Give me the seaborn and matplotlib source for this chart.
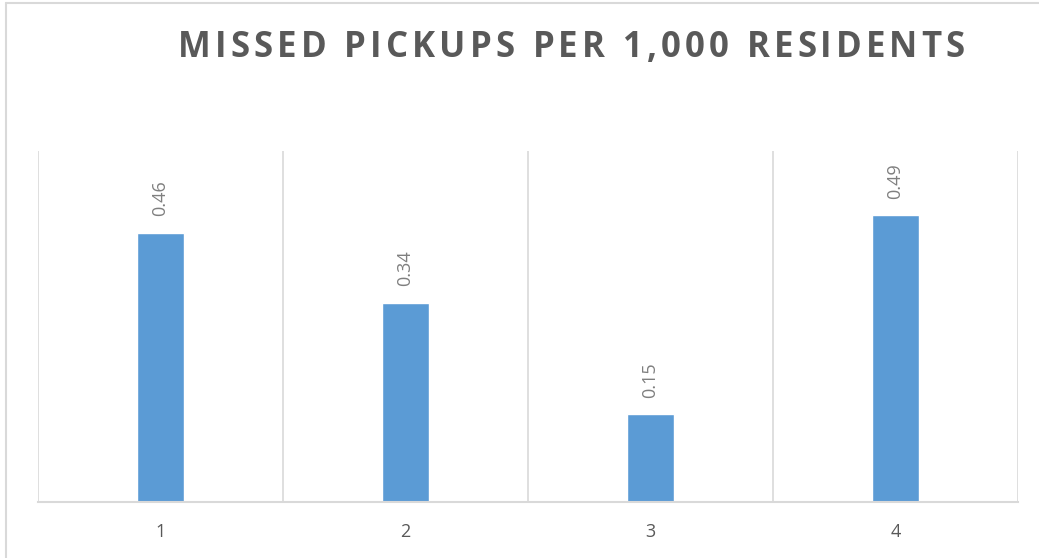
import numpy as np
import pandas as pd
import matplotlib.pyplot as plt
import seaborn as sns
from matplotlib.lines import Line2D

sns.set_style("white")
plt.rcParams["font.family"] = ["Open Sans", "DejaVu Sans"]

# data
periods = ["1", "2", "3", "4"]
missed_per_1000 = [0.46, 0.34, 0.15, 0.49]
value_labels = ["0.46", "0.34", "0.15", "0.49"]
title = "MISSED PICKUPS PER 1,000 RESIDENTS"

df = pd.DataFrame({"period": periods, "rate": missed_per_1000})

W, H = 1039, 558
fig = plt.figure(figsize=(W / 100, H / 100), dpi=100)
ax = fig.add_axes([38 / W, 1 - 502 / H, 980 / W, 351 / H])

sns.barplot(data=df, x="period", y="rate", color="#5B9BD5", width=0.19,
            saturation=1, ax=ax)

ax.set_xlim(-0.5, len(periods) - 0.5)
ax.set_ylim(0, 0.6)
ax.set_yticks([])
ax.set_xlabel("")
ax.set_ylabel("")

# vertical gridlines between categories
ax.set_xticks(np.arange(-0.5, len(periods)), minor=True)
ax.grid(which="minor", axis="x", color="#D9D9D9", linewidth=1.2)
ax.tick_params(axis="x", which="both", length=0, labelsize=13,
               labelcolor="#595959", pad=15)

for side in ["top", "right", "left"]:
    ax.spines[side].set_visible(False)
ax.spines["bottom"].set_color("#D9D9D9")
ax.spines["bottom"].set_linewidth(1.5)

# rotated value labels above bars
for i, (v, lab) in enumerate(zip(missed_per_1000, value_labels)):
    ax.annotate(lab, (i, v), xytext=(0, 12), textcoords="offset points",
                rotation=90, ha="center", va="bottom", fontsize=13,
                color="#7F7F7F")

# title with extra letter spacing, spread between x=178 and x=965 px
renderer = fig.canvas.get_renderer()
t_left, t_right = 178, 965
widths = []
for ch in title:
    t = fig.text(0, 0, ch if ch != " " else "M", fontsize=25, fontweight="bold")
    w = t.get_window_extent(renderer).width
    if ch == " ":
        w *= 0.3
    widths.append(w)
    t.remove()
gap = (t_right - t_left - sum(widths)) / (len(title) - 1)
x = t_left
for ch, w in zip(title, widths):
    if ch != " ":
        fig.text(x / W, 1 - 57 / H, ch, ha="left", va="baseline", fontsize=25,
                 fontweight="bold", color="#595959")
    x += w + gap

# chart frame (left and top edges visible in the crop)
fig.add_artist(Line2D([6 / W, 6 / W], [0, 1 - 3 / H],
                      transform=fig.transFigure, color="#D9D9D9", linewidth=1.5))
fig.add_artist(Line2D([6 / W, 1], [1 - 3 / H, 1 - 3 / H],
                      transform=fig.transFigure, color="#D9D9D9", linewidth=1.5))

fig.savefig("out.png", dpi=100)
